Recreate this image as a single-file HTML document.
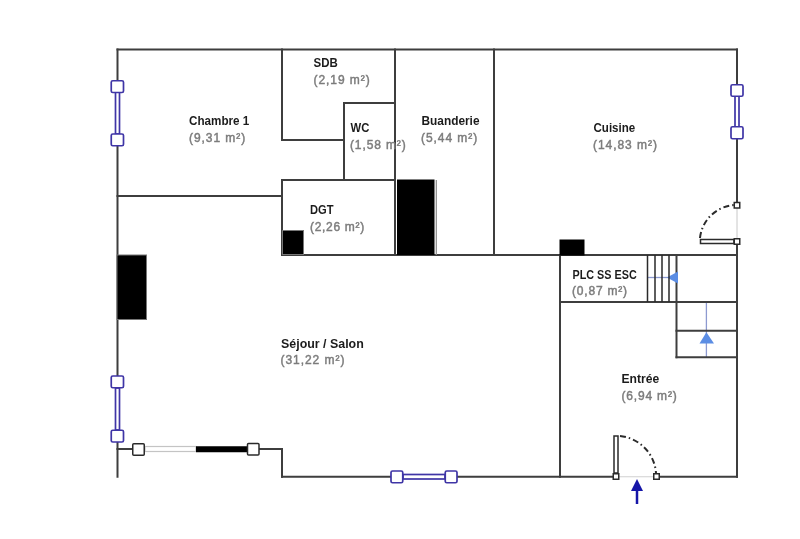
<!DOCTYPE html>
<html><head><meta charset="utf-8">
<style>
html,body{margin:0;padding:0;background:#fff;width:800px;height:539px;overflow:hidden}
svg{display:block;filter:blur(0.3px)}
.n{font-family:"Liberation Sans",sans-serif;font-weight:bold;font-size:12px;fill:#1c1c1c}
.a{font-family:"Liberation Sans",sans-serif;font-size:12px;fill:#7c7c7c;stroke:#7c7c7c;stroke-width:0.45}
</style></head><body>
<svg width="800" height="539" viewBox="0 0 800 539">
<!-- blue stair arrows -->
<g stroke="#8d9ad0" stroke-width="1.3" fill="none">
  <path d="M648 277.5H670"/>
  <path d="M706.4 302V357"/>
</g>
<g stroke="#3e3e3e" stroke-width="2" fill="none" stroke-linecap="square">
  <!-- outer -->
  <path d="M117.5 49.5H737"/>
  <path d="M117.5 49.5V476.75"/>
  <path d="M737 49.5V202 M737 241V476.75"/>
  <path d="M282 476.75H616 M656 476.75H737"/>
  <!-- chambre / sdb -->
  <path d="M282 49.5V140H344"/>
  <path d="M344 103H395"/>
  <path d="M344 103V180"/>
  <path d="M395 49.5V255"/>
  <path d="M494 49.5V255"/>
  <path d="M117.5 196H282"/>
  <path d="M282 180H395"/>
  <path d="M282 180V255"/>
  <path d="M282 255H737"/>
  <path d="M560 255V476.75"/>
  <path d="M560 302H737"/>
  <path d="M676.5 255V357.25"/>
  <path d="M676.5 330.75H737"/>
  <path d="M676.5 357.25H737"/>
  <path d="M117.5 449H282V476.75"/>
</g>
<path d="M667 277.5L678 271.5V283.5Z" fill="#5b8de4"/>
<path d="M706.4 332.3L699.5 343.5H714Z" fill="#5b8de4"/>
<!-- stairs -->
<g stroke="#2a2a2a" stroke-width="1.5">
  <path d="M647.5 255V302 M655 255V302 M662 255V302 M669 255V302"/>
</g>
<!-- black blocks -->
<rect x="397" y="179.5" width="37.5" height="75.5" fill="#000"/>
<path d="M436.3 180V255" stroke="#8a8a8a" stroke-width="1.2"/>
<g fill="#000" stroke="#777" stroke-width="1">
  <rect x="282.5" y="230.5" width="21" height="24"/>
  <rect x="117" y="255" width="29.5" height="64.5"/>
</g>
<rect x="559.5" y="239.5" width="25" height="16" fill="#000"/>
<!-- windows blue -->
<g stroke="#3f35a6" stroke-width="1.7" fill="#fff">
  <rect x="115.5" y="92" width="4" height="42"/>
  <rect x="111.25" y="80.75" width="12.25" height="11.75" rx="1.5"/>
  <rect x="111.25" y="134" width="12.25" height="11.75" rx="1.5"/>
  <rect x="735" y="96" width="4" height="31"/>
  <rect x="731" y="84.75" width="12" height="11.5" rx="1.5"/>
  <rect x="731" y="126.75" width="12" height="12" rx="1.5"/>
  <rect x="115.5" y="388" width="4" height="42"/>
  <rect x="111.25" y="376" width="12.25" height="11.75" rx="1.5"/>
  <rect x="111.25" y="430.25" width="12.25" height="11.75" rx="1.5"/>
  <rect x="403" y="474.5" width="42" height="4.5"/>
  <rect x="391" y="471" width="11.75" height="11.75" rx="1.5"/>
  <rect x="445.25" y="471" width="11.75" height="11.75" rx="1.5"/>
</g>
<!-- sliding window bottom-left -->
<rect x="145" y="446.5" width="51" height="5" fill="#fff" stroke="#c4c4c4" stroke-width="1.2"/>
<rect x="196" y="446.25" width="51" height="6" fill="#000"/>
<g stroke="#2a2a2a" stroke-width="1.5" fill="#fff">
  <rect x="132.75" y="443.75" width="11.5" height="11.5" rx="1"/>
  <rect x="247.5" y="443.5" width="11.5" height="11.5" rx="1"/>
</g>
<!-- cuisine door -->
<path d="M737 202V241" stroke="#c8c8c8" stroke-width="1"/>
<path d="M700.5 239.5H734V243.5H700.5Z" fill="#fff" stroke="#2b2b2b" stroke-width="1.5"/>
<path d="M700 238A37 37 0 0 1 734 205" fill="none" stroke="#2b2b2b" stroke-width="2" stroke-dasharray="6 3 1.5 3"/>
<rect x="734.25" y="202.5" width="5.5" height="5.5" fill="#fff" stroke="#2b2b2b" stroke-width="1.5"/>
<rect x="734.25" y="238.75" width="5.5" height="5.5" fill="#fff" stroke="#2b2b2b" stroke-width="1.5"/>
<!-- entree door -->
<path d="M616 476.75H656" stroke="#d0d0d0" stroke-width="1"/>
<path d="M614 436V473H618V436Z" fill="#fff" stroke="#2b2b2b" stroke-width="1.5"/>
<path d="M620 436A40 40 0 0 1 656 473" fill="none" stroke="#2b2b2b" stroke-width="2" stroke-dasharray="6 3 1.5 3"/>
<rect x="613.25" y="473.75" width="5.5" height="5.5" fill="#fff" stroke="#2b2b2b" stroke-width="1.5"/>
<rect x="653.75" y="473.75" width="5.5" height="5.5" fill="#fff" stroke="#2b2b2b" stroke-width="1.5"/>
<path d="M637 479L631 491H643Z" fill="#1616a8"/>
<path d="M637 490V504" stroke="#1616a8" stroke-width="2.5"/>
<!-- labels -->
<text class="n" x="189" y="124.5" lengthAdjust="spacingAndGlyphs" textLength="60.3">Chambre 1</text>
<text class="a" x="189" y="142" lengthAdjust="spacing" textLength="56.2">(9,31 m²)</text>
<text class="n" x="313.5" y="67" lengthAdjust="spacingAndGlyphs" textLength="24.2">SDB</text>
<text class="a" x="313.5" y="83.5" lengthAdjust="spacing" textLength="56.2">(2,19 m²)</text>
<text class="n" x="350.5" y="132" lengthAdjust="spacingAndGlyphs" textLength="18.8">WC</text>
<text class="a" x="350" y="148.5" lengthAdjust="spacing" textLength="55.7">(1,58 m²)</text>
<text class="n" x="421.5" y="124.5" lengthAdjust="spacingAndGlyphs" textLength="58">Buanderie</text>
<text class="a" x="421" y="141.5" lengthAdjust="spacing" textLength="56.2">(5,44 m²)</text>
<text class="n" x="593.5" y="132" lengthAdjust="spacingAndGlyphs" textLength="41.7">Cuisine</text>
<text class="a" x="593" y="149" lengthAdjust="spacing" textLength="63.9">(14,83 m²)</text>
<text class="n" x="310" y="214" lengthAdjust="spacingAndGlyphs" textLength="23.5">DGT</text>
<text class="a" x="310" y="230.5" lengthAdjust="spacing" textLength="54.2">(2,26 m²)</text>
<text class="n" x="572.5" y="278.6" lengthAdjust="spacingAndGlyphs" textLength="64.2">PLC SS ESC</text>
<text class="a" x="572" y="295" lengthAdjust="spacing" textLength="55.1">(0,87 m²)</text>
<text class="n" x="281" y="347.5" lengthAdjust="spacingAndGlyphs" textLength="82.75">Séjour / Salon</text>
<text class="a" x="280.5" y="364.4" lengthAdjust="spacing" textLength="63.9">(31,22 m²)</text>
<text class="n" x="621.5" y="383" lengthAdjust="spacingAndGlyphs" textLength="37.7">Entrée</text>
<text class="a" x="621.5" y="400" lengthAdjust="spacing" textLength="55.2">(6,94 m²)</text>
</svg>
</body></html>
